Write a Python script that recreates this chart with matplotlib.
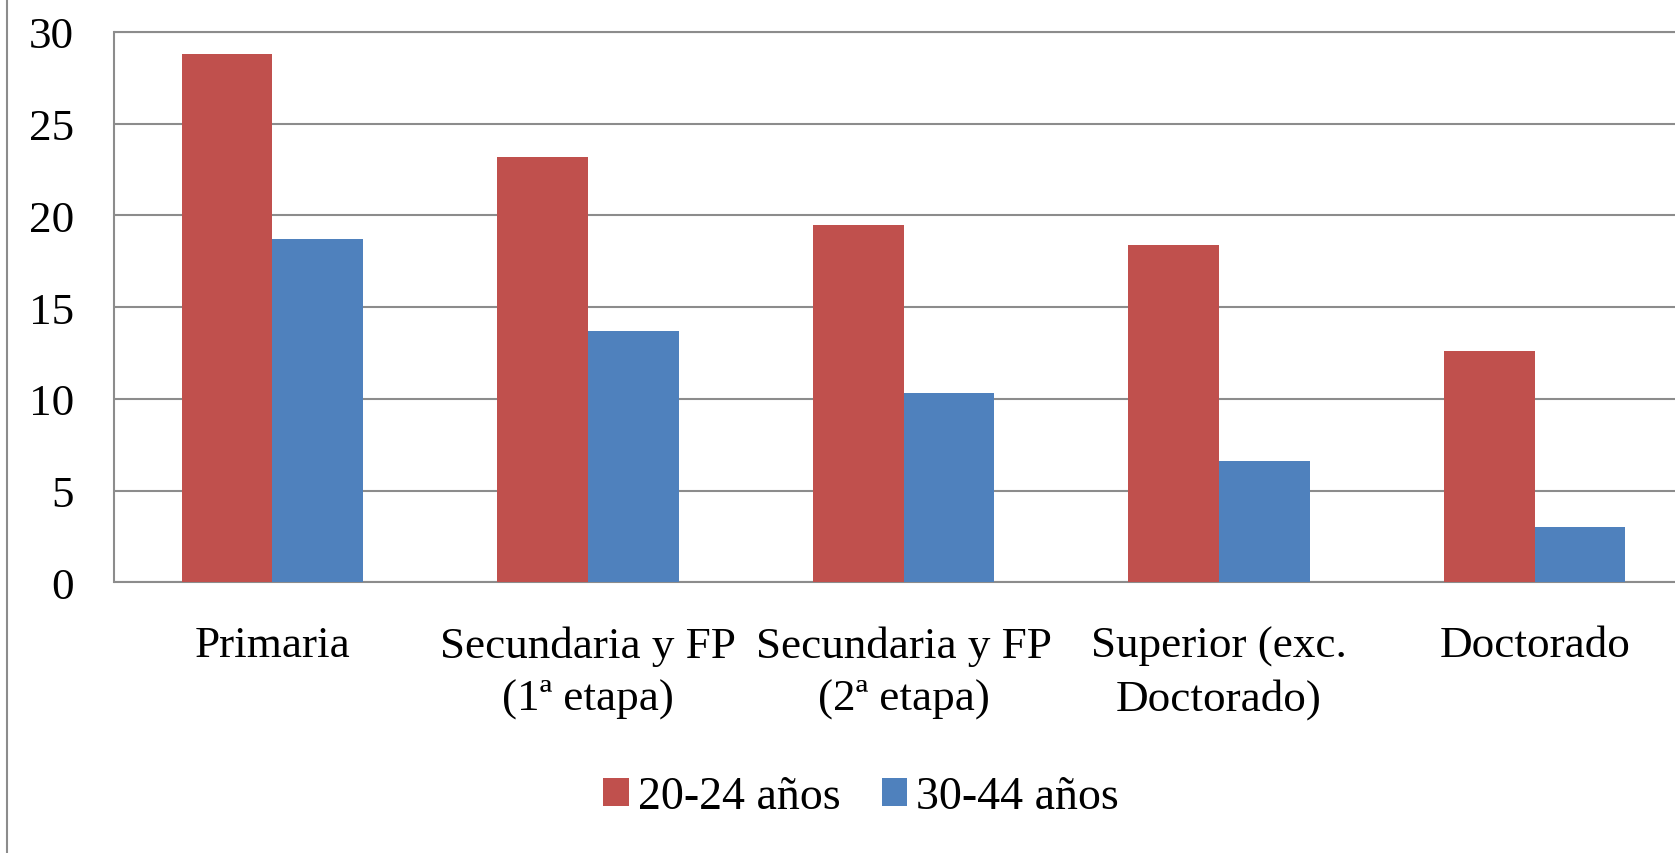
import numpy as np
import matplotlib
matplotlib.use("Agg")
import matplotlib.pyplot as plt
from matplotlib.lines import Line2D

categorias = ["Primaria", "Secundaria y FP\n(1ª etapa)", "Secundaria y FP\n(2ª etapa)",
              "Superior (exc.\nDoctorado)", "Doctorado"]
edad_20_24 = [28.8, 23.2, 19.5, 18.4, 12.6]
edad_30_44 = [18.7, 13.7, 10.3, 6.6, 3.0]
series = ["20-24 años", "30-44 años"]

plt.rcParams['font.family'] = ['Liberation Serif', 'DejaVu Serif']

W, H = 1675, 854
gris = '#8c8c8c'

fig = plt.figure(figsize=(W / 100, H / 100), dpi=100)
ax = fig.add_axes([114.5 / W, (H - 583.3) / H, 1578 / W, 550.3 / H])

x = np.arange(len(categorias))
ancho = 0.2874
ax.bar(x - ancho / 2, edad_20_24, ancho, color='#C0504D', label=series[0], zorder=3)
ax.bar(x + ancho / 2, edad_30_44, ancho, color='#4F81BD', label=series[1], zorder=3)

ax.set_xlim(-0.5, len(categorias) - 0.5)
ax.set_ylim(0, 30)
ax.set_yticks(range(0, 31, 5))
ax.set_xticks(x)
ax.set_xticklabels(categorias, linespacing=1.4)

ax.yaxis.grid(True, color=gris, lw=1.5)
ax.set_axisbelow(True)
for s in ['left', 'bottom', 'top']:
    ax.spines[s].set_color(gris)
    ax.spines[s].set_linewidth(1.5)
ax.spines['right'].set_visible(False)

ax.tick_params(axis='both', length=0, labelsize=32.5, colors='black')
ax.tick_params(axis='y', pad=29)
ax.tick_params(axis='x', pad=31)

# borde izquierdo del area del grafico
fig.add_artist(Line2D([7 / W, 7 / W], [0, 1], transform=fig.transFigure, color=gris, lw=1.5))

ax.legend(loc='center', bbox_to_anchor=(861 / W, 56 / H), bbox_transform=fig.transFigure,
          ncol=2, frameon=False, fontsize=33, handlelength=0.55, handleheight=0.55,
          handletextpad=0.2, columnspacing=0.9)

fig.savefig("out.png", dpi=100)
